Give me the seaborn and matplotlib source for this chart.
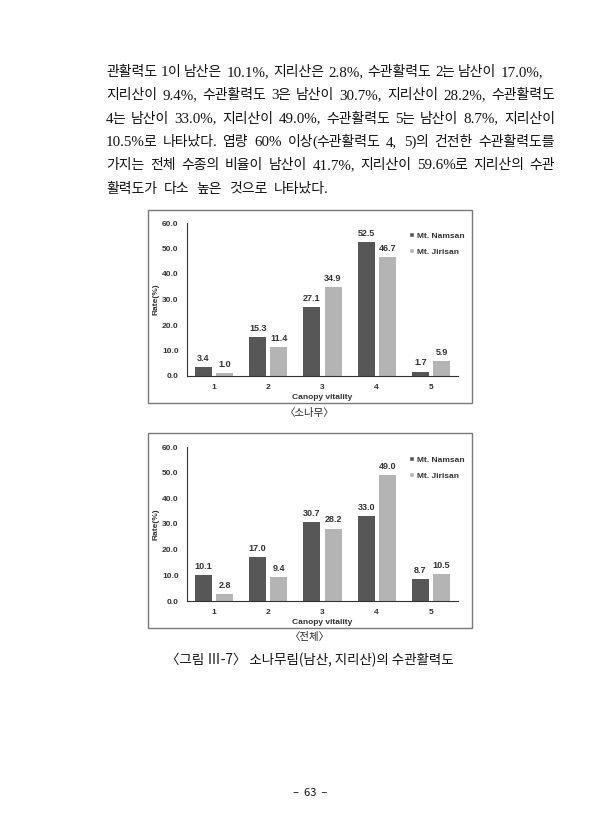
import matplotlib
matplotlib.use('Agg')
import pandas as pd
import matplotlib.pyplot as plt
import seaborn as sns
from matplotlib.patches import Rectangle, Patch

W, H = 605, 840

# --- chart data ---
vitality = ['1', '2', '3', '4', '5']
sites = ['Mt. Namsan', 'Mt. Jirisan']
pine_namsan = [3.4, 15.3, 27.1, 52.5, 1.7]
pine_jirisan = [1.0, 11.4, 34.9, 46.7, 5.9]
total_namsan = [10.1, 17.0, 30.7, 33.0, 8.7]
total_jirisan = [2.8, 9.4, 28.2, 49.0, 10.5]
y_ticks = [0, 10, 20, 30, 40, 50, 60]

# --- page text ---
paragraph = [
    '관활력도 1이 남산은 10.1%, 지리산은 2.8%, 수관활력도 2는 남산이 17.0%,',
    '지리산이 9.4%, 수관활력도 3은 남산이 30.7%, 지리산이 28.2%, 수관활력도',
    '4는 남산이 33.0%, 지리산이 49.0%, 수관활력도 5는 남산이 8.7%, 지리산이',
    '10.5%로 나타났다. 엽량 60% 이상(수관활력도 4, 5)의 건전한 수관활력도를',
    '가지는 전체 수종의 비율이 남산이 41.7%, 지리산이 59.6%로 지리산의 수관',
    '활력도가 다소 높은 것으로 나타났다.',
]
sub_captions = ['〈소나무〉', '〈전체〉']
fig_caption = '〈그림 Ⅲ-7〉 소나무림(남산, 지리산)의 수관활력도'
page_no = '–  63  –'

DARK = '#575757'
LIGHT = '#b4b4b4'
TXT = '#333333'
CHART_FONT = ['Liberation Sans', 'DejaVu Sans']
LATIN_FONT = ['Liberation Serif', 'Noto Sans CJK KR']
KOREAN_FONT = ['Noto Sans CJK KR', 'DejaVu Sans']

sns.set_theme(style='white')
plt.rcParams['font.family'] = LATIN_FONT


def fx(x):
    return x / W


def fy(y):
    return 1 - y / H


def is_hangul(ch):
    return '\uac00' <= ch <= '\ud7a3' or '\u3130' <= ch <= '\u318f'


def split_runs(word):
    runs = []
    for ch in word:
        kind = is_hangul(ch)
        if runs and runs[-1][0] == kind:
            runs[-1][1] += ch
        else:
            runs.append([kind, ch])
    return runs


def draw_chart(ax, namsan, jirisan):
    df = pd.DataFrame({
        'vitality': vitality * 2,
        'rate': namsan + jirisan,
        'site': [sites[0]] * len(vitality) + [sites[1]] * len(vitality),
    })
    sns.barplot(data=df, x='vitality', y='rate', hue='site',
                palette=[DARK, LIGHT], width=0.78, gap=0.2,
                linewidth=0, ax=ax, legend=False)
    for cont in ax.containers:
        ax.bar_label(cont, fmt='%.1f', padding=3, fontsize=6.5,
                     fontweight='bold', color=TXT, family=CHART_FONT)
    ax.set_ylim(0, 60)
    ax.set_yticks(y_ticks)
    ax.set_yticklabels([f'{t:.1f}' for t in y_ticks])
    ax.set_xlim(-0.5, len(vitality) - 0.5)
    ax.tick_params(axis='both', length=0, labelsize=6, labelcolor=TXT)
    ax.tick_params(axis='y', pad=6)
    ax.tick_params(axis='x', pad=6)
    for lab in ax.get_xticklabels() + ax.get_yticklabels():
        lab.set_fontweight('bold')
        lab.set_family(CHART_FONT)
    sns.despine(ax=ax)
    for side in ['left', 'bottom']:
        ax.spines[side].set_color('#333333')
        ax.spines[side].set_linewidth(0.8)
    ax.set_xlabel('Canopy vitality', fontsize=6, fontweight='bold',
                  color=TXT, family=CHART_FONT)
    ax.set_ylabel('Rate(%)', fontsize=6, fontweight='bold',
                  color=TXT, family=CHART_FONT)
    ax.xaxis.set_label_coords(0.5, -0.115)
    ax.yaxis.set_label_coords(-0.1, 0.5)
    handles = [Patch(facecolor=DARK), Patch(facecolor=LIGHT)]
    leg = ax.legend(handles, sites, loc='upper left',
                    bbox_to_anchor=(0.79, 0.99), frameon=False,
                    handlelength=0.6, handleheight=0.6, handletextpad=0.4,
                    labelspacing=1.0,
                    prop={'size': 6, 'weight': 'bold', 'family': CHART_FONT})
    for t in leg.get_texts():
        t.set_color(TXT)


fig = plt.figure(figsize=(W / 100, H / 100), dpi=100)
fig.patch.set_facecolor('white')

# frames around the two charts
for top, bot in [(210, 403), (433, 628)]:
    fig.patches.append(Rectangle((fx(148), fy(bot)), fx(472) - fx(148),
                                 fy(top) - fy(bot), transform=fig.transFigure,
                                 fill=False, edgecolor='#7a7a7a', linewidth=1.0))

ax1 = fig.add_axes([fx(187), fy(376), fx(458) - fx(187), fy(223) - fy(376)])
draw_chart(ax1, pine_namsan, pine_jirisan)
ax2 = fig.add_axes([fx(187), fy(601), fx(458) - fx(187), fy(447) - fy(601)])
draw_chart(ax2, total_namsan, total_jirisan)

fig.text(fx(310), fy(413), sub_captions[0], ha='center', va='center',
         fontsize=7.5, color='#222222', family=KOREAN_FONT)
fig.text(fx(310), fy(637), sub_captions[1], ha='center', va='center',
         fontsize=7.5, color='#222222', family=KOREAN_FONT)
fig.text(fx(310), fy(660), fig_caption, ha='center', va='center',
         fontsize=9.7, color='#111111', family=KOREAN_FONT)
fig.text(fx(310), fy(793), page_no, ha='center', va='center',
         fontsize=8, color='#111111', family=KOREAN_FONT)

# justified body paragraph: Hangul runs in a CJK font, the rest in a serif
renderer = fig.canvas.get_renderer()
line_centers = [71, 94.3, 117.6, 141, 164.3, 187.6]
right_edges = [543, 555, 555, 555, 555, None]
x_left = 106
for line, yc, x_right in zip(paragraph, line_centers, right_edges):
    words = []
    for w in line.split(' '):
        parts = []
        prev = None
        for kind, s in split_runs(w):
            t = fig.text(0, fy(yc + 5.0), s, va='baseline', ha='left',
                         color='#111111',
                         fontsize=10.0 if kind else 10.8,
                         family=KOREAN_FONT if kind else LATIN_FONT)
            kern = -1.2 if (prev is not None and prev != kind) else 0.0
            parts.append((t, kern, t.get_window_extent(renderer).width))
            prev = kind
        words.append(parts)
    widths = [sum(k + pw for _, k, pw in parts) for parts in words]
    if x_right is None:
        gap = 7.0
    else:
        gap = (x_right - x_left - sum(widths)) / (len(words) - 1)
    x = x_left
    for parts, w in zip(words, widths):
        xx = x
        for t, k, pw in parts:
            xx += k
            t.set_x(fx(xx))
            xx += pw
        x += w + gap

fig.savefig('out.png', dpi=100, facecolor='white')
